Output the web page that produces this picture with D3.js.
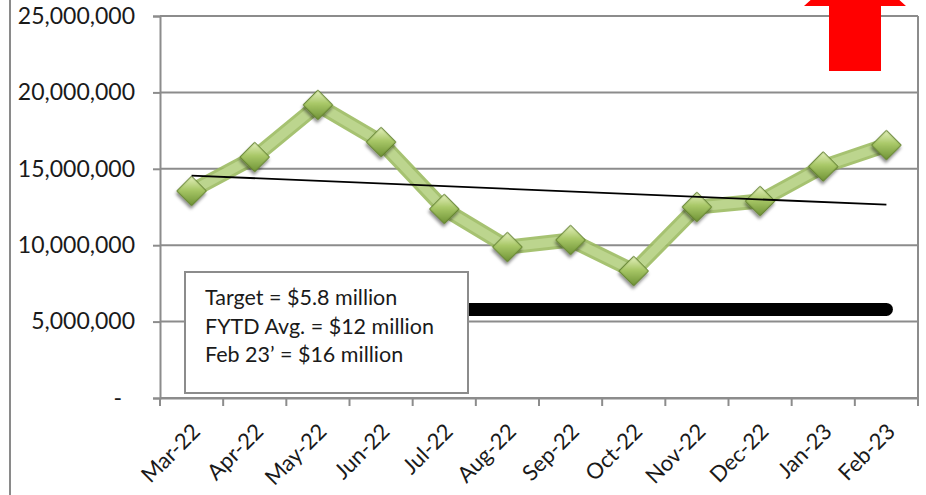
<!DOCTYPE html>
<html>
<head>
<meta charset="utf-8">
<script src="https://cdn.jsdelivr.net/npm/d3@7"></script>
<style>
  body { margin: 0; background: #fff; }
  svg { display: block; font-family: Lato, "Open Sans", sans-serif; }
</style>
</head>
<body>
<svg id="chart"></svg>
<script>
var width = 926;
var height = 495;

// monthly values
var months = ['Mar-22', 'Apr-22', 'May-22', 'Jun-22', 'Jul-22', 'Aug-22', 'Sep-22', 'Oct-22', 'Nov-22', 'Dec-22', 'Jan-23', 'Feb-23'];
var revenue = [13550000, 15770000, 19180000, 16750000, 12370000, 9880000, 10340000, 8310000, 12500000, 12890000, 15150000, 16550000];
var target = 5800000;
var yTicks = [0, 5000000, 10000000, 15000000, 20000000, 25000000];
var noteLines = ['Target = $5.8 million', 'FYTD Avg. = $12 million', 'Feb 23\u2019 = $16 million'];

var margin = {top: 16, right: 8, bottom: 97, left: 160};

var svg = d3.select('#chart')
    .attr('width', width)
    .attr('height', height);

var defs = svg.append('defs');

var grad = defs.append('linearGradient')
    .attr('id', 'markerFill')
    .attr('x1', '0%').attr('y1', '0%')
    .attr('x2', '100%').attr('y2', '100%');
grad.append('stop').attr('offset', '0%').attr('stop-color', '#e4f0bd');
grad.append('stop').attr('offset', '45%').attr('stop-color', '#a9c868');
grad.append('stop').attr('offset', '100%').attr('stop-color', '#6f9335');

var shadow = defs.append('filter').attr('id', 'shadow')
    .attr('x', '-50%').attr('y', '-50%').attr('width', '200%').attr('height', '200%');
shadow.append('feDropShadow')
    .attr('dx', 1.5).attr('dy', 2.5).attr('stdDeviation', 1.5)
    .attr('flood-color', '#000').attr('flood-opacity', 0.45);

// outer frame line on the left
svg.append('line')
    .attr('x1', 10).attr('x2', 10)
    .attr('y1', 0).attr('y2', height)
    .attr('stroke', '#8a8a8a')
    .attr('stroke-width', 2);

var x = d3.scaleBand()
    .domain(months)
    .range([margin.left, width - margin.right]);

var y = d3.scaleLinear()
    .domain([0, 25000000])
    .range([height - margin.bottom, margin.top]);

var cx = d => x(d) + x.bandwidth() / 2;

// gridlines
svg.append('g')
    .selectAll('line')
    .data(yTicks)
    .join('line')
        .attr('x1', margin.left)
        .attr('x2', width - margin.right)
        .attr('y1', d => y(d))
        .attr('y2', d => y(d))
        .attr('stroke', '#8c8c8c')
        .attr('stroke-width', 2);

// right border of plot area
svg.append('line')
    .attr('x1', width - margin.right).attr('x2', width - margin.right)
    .attr('y1', y(25000000)).attr('y2', y(0))
    .attr('stroke', '#8c8c8c')
    .attr('stroke-width', 2);

// y axis
var yAxis = svg.append('g')
    .attr('transform', `translate(${margin.left},0)`)
    .call(d3.axisLeft(y)
        .tickValues(yTicks)
        .tickSize(7)
        .tickPadding(16)
        .tickFormat(d => d === 0 ? '-' : d3.format(',')(d)));
yAxis.select('.domain').attr('stroke', '#8c8c8c').attr('stroke-width', 2);
yAxis.selectAll('.tick line').attr('stroke', '#8c8c8c').attr('stroke-width', 2);
yAxis.selectAll('.tick text')
    .attr('font-family', 'Lato, sans-serif')
    .attr('font-size', 23)
    .attr('fill', '#1a1a1a')
    .attr('x', d => d === 0 ? -38 : -25);

// x axis
var xAxis = svg.append('g')
    .attr('transform', `translate(0,${y(0)})`)
    .call(d3.axisBottom(x).tickSize(0).tickFormat(''));
xAxis.select('.domain').attr('stroke', '#8c8c8c').attr('stroke-width', 2);

svg.append('g')
    .selectAll('line')
    .data(months.concat(['end']))
    .join('line')
        .attr('x1', (d, i) => margin.left + i * x.bandwidth())
        .attr('x2', (d, i) => margin.left + i * x.bandwidth())
        .attr('y1', y(0))
        .attr('y2', y(0) + 8)
        .attr('stroke', '#8c8c8c')
        .attr('stroke-width', 2);

svg.append('g')
    .selectAll('text')
    .data(months)
    .join('text')
        .attr('transform', d => `translate(${cx(d) + 10},${y(0) + 35}) rotate(-45)`)
        .attr('text-anchor', 'end')
        .attr('font-size', 22)
        .attr('fill', '#1a1a1a')
        .text(d => d);

// revenue line: darker band with a lighter core
var line = d3.line()
    .x((d, i) => cx(months[i]))
    .y(d => y(d));

svg.append('path')
    .datum(revenue)
    .attr('fill', 'none')
    .attr('stroke', '#9cbb62')
    .attr('stroke-width', 15)
    .attr('stroke-linejoin', 'round')
    .attr('opacity', 0.9)
    .attr('d', line);

svg.append('path')
    .datum(revenue)
    .attr('fill', 'none')
    .attr('stroke', '#bcd58e')
    .attr('stroke-width', 9)
    .attr('stroke-linejoin', 'round')
    .attr('d', line);

// diamond markers
svg.append('g')
    .selectAll('path')
    .data(revenue)
    .join('path')
        .attr('transform', (d, i) => `translate(${cx(months[i])},${y(d)}) rotate(45)`)
        .attr('d', d3.symbol().type(d3.symbolSquare).size(430))
        .attr('fill', 'url(#markerFill)')
        .attr('stroke', '#5f7f2c')
        .attr('stroke-width', 1)
        .attr('filter', 'url(#shadow)');

// linear trendline
var n = revenue.length;
var meanX = (n - 1) / 2;
var meanY = d3.mean(revenue);
var slope = d3.sum(revenue, (v, i) => (i - meanX) * (v - meanY)) / d3.sum(revenue, (v, i) => (i - meanX) * (i - meanX));
var trend = [meanY - slope * meanX, meanY + slope * (n - 1 - meanX)];

svg.append('line')
    .attr('x1', cx(months[0]))
    .attr('x2', cx(months[n - 1]))
    .attr('y1', y(trend[0]))
    .attr('y2', y(trend[1]))
    .attr('stroke', '#000')
    .attr('stroke-width', 1.8);

// target line
svg.append('line')
    .attr('x1', cx(months[0]))
    .attr('x2', cx(months[n - 1]))
    .attr('y1', y(target))
    .attr('y2', y(target))
    .attr('stroke', '#000')
    .attr('stroke-width', 13)
    .attr('stroke-linecap', 'round');

// note box
var note = svg.append('g').attr('transform', 'translate(185,272)');
note.append('rect')
    .attr('width', 283)
    .attr('height', 121)
    .attr('fill', '#fff')
    .attr('stroke', '#8c8c8c')
    .attr('stroke-width', 2);
note.selectAll('text')
    .data(noteLines)
    .join('text')
        .attr('x', 20)
        .attr('y', (d, i) => 33 + i * 28.5)
        .attr('font-size', 21.5)
        .attr('fill', '#1a1a1a')
        .text(d => d);

// red up arrow, cut off at the top
svg.append('path')
    .attr('d', 'M829,71 L881,71 L881,6 L906,6 L855,-40 L804,6 L829,6 Z')
    .attr('fill', '#ff0000');
</script>
</body>
</html>
